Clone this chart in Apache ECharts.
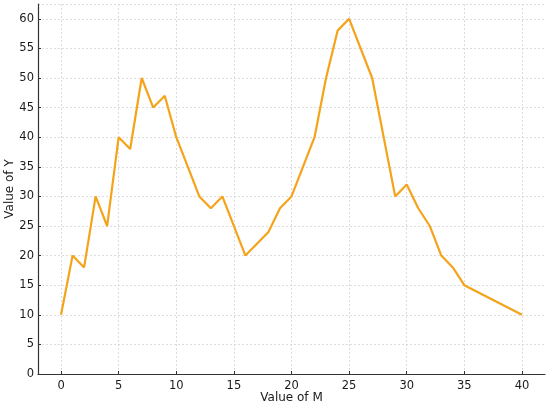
<!DOCTYPE html>
<html>
<head>
<meta charset="utf-8">
<script src="https://cdn.jsdelivr.net/npm/echarts@6/dist/echarts.min.js"></script>
<style>
  html, body { margin: 0; padding: 0; background: #fff; }
  #chart { width: 550px; height: 405px; }
</style>
</head>
<body>
<div id="chart"></div>
<script>
const mValues = [0, 1, 2, 3, 4, 5, 6, 7, 8, 9, 10, 12, 13, 14, 16, 18, 19, 20, 22, 23, 24, 25, 27, 29, 30, 31, 32, 33, 34, 35, 40];
const yValues = [10, 20, 18, 30, 25, 40, 38, 50, 45, 47, 40, 30, 28, 30, 20, 24, 28, 30, 40, 50, 58, 60, 50, 30, 32, 28, 25, 20, 18, 15, 10];
const mTicks = [0, 5, 10, 15, 20, 25, 30, 35, 40];

const FONT = 'DejaVu Sans';

window.addEventListener('DOMContentLoaded', function () {
    var chart = echarts.init(document.getElementById('chart'), null, { renderer: 'canvas' });

    var points = mValues.map((m, i) => [m, yValues[i]]);

    var gridLine = {
        show: true,
        lineStyle: { color: '#d4d4d4', width: 0.8, type: [2, 2] }
    };

    var option = {
        animation: false,
        backgroundColor: '#fff',
        grid: { left: 38, right: 5, top: 4, bottom: 31, containLabel: false, outerBoundsMode: 'none' },
        xAxis: {
            type: 'value',
            min: -2,
            max: 42,
            name: 'Value of M',
            nameLocation: 'middle',
            nameGap: 18,
            nameMoveOverlap: false,
            nameTextStyle: { fontFamily: FONT, fontSize: 12, color: '#1a1a1a' },
            axisLine: { show: true, onZero: false, lineStyle: { color: '#333', width: 1.2 } },
            axisTick: { show: true, inside: true, length: 3, customValues: mTicks, lineStyle: { color: '#333' } },
            axisLabel: {
                fontFamily: FONT, fontSize: 11.5, color: '#1a1a1a', margin: 6,
                customValues: mTicks
            },
            splitLine: gridLine
        },
        yAxis: {
            type: 'value',
            min: 0,
            max: 62.5,
            interval: 5,
            name: 'Value of Y',
            nameLocation: 'middle',
            nameGap: 22,
            nameMoveOverlap: false,
            nameTextStyle: { fontFamily: FONT, fontSize: 12, color: '#1a1a1a' },
            axisLine: { show: true, onZero: false, lineStyle: { color: '#333', width: 1.2 } },
            axisTick: { show: true, inside: true, length: 3, lineStyle: { color: '#333' } },
            axisLabel: {
                fontFamily: FONT, fontSize: 11.5, color: '#1a1a1a', margin: 4,
                showMaxLabel: false,
                formatter: v => (v <= 60 ? String(v) : '')
            },
            splitLine: gridLine
        },
        series: [{
            type: 'line',
            data: points,
            showSymbol: false,
            symbol: 'none',
            lineStyle: { color: '#f5a31a', width: 2.2 },
            itemStyle: { color: '#f5a31a' }
        }]
    };

    chart.setOption(option);
}, false);
</script>
</body>
</html>
